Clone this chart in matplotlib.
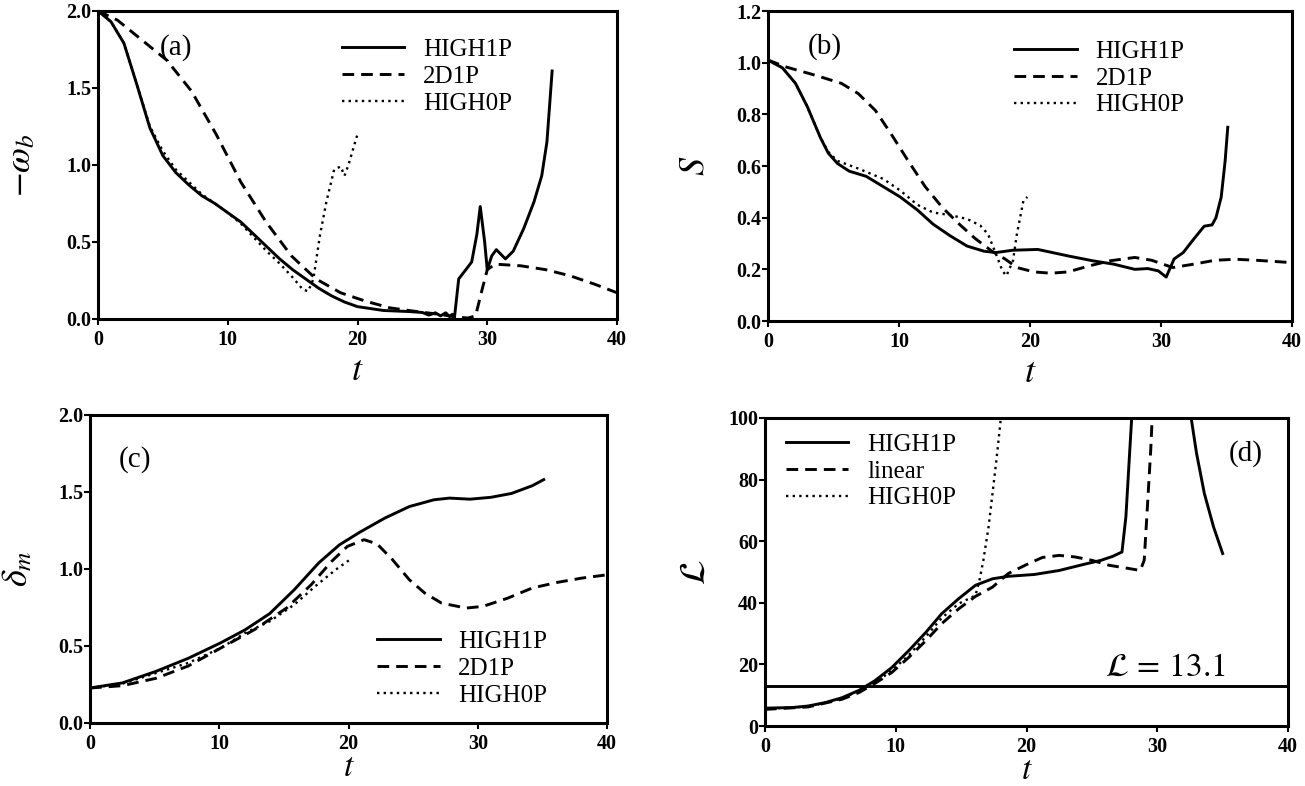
import numpy as np
import matplotlib
matplotlib.use("Agg")
import matplotlib.pyplot as plt

plt.rcParams['font.family'] = 'serif'
plt.rcParams['font.serif'] = ['Liberation Serif', 'DejaVu Serif']
plt.rcParams['mathtext.fontset'] = 'stix'

nan = np.nan

# (a) -omega_b
a_t_h1 = [0, 1, 2, 3, 4, 5, 6, 7, 8, 9, 10, 11, 12, 13, 14, 15, 16, 17, 18, 19, 20, 22, 24,
          25, 25.5, 26, 26.4, 26.8, 27.1, 27.3, 27.46, 27.8, 28.35, 28.8, 29.2, 29.46, 29.8,
          30.0, 30.35, 30.7, 31.4, 32.0, 32.8, 33.6, 34.2, 34.6, 35.0]
a_v_h1 = [2.0, 1.93, 1.79, 1.52, 1.24, 1.06, 0.95, 0.87, 0.80, 0.75, 0.69, 0.63, 0.55, 0.47,
          0.39, 0.32, 0.26, 0.20, 0.15, 0.11, 0.08, 0.055, 0.048, 0.042, 0.025, 0.04, 0.02,
          0.04, 0.015, 0.03, 0.0, 0.26, 0.32, 0.37, 0.55, 0.73, 0.50, 0.32, 0.41, 0.45, 0.39,
          0.44, 0.585, 0.76, 0.93, 1.15, 1.61]
a_t_2d = [0, 1.5, 3.4, 5.3, 7.2, 9.1, 11.0, 12.95, 14.9, 16.8, 18.7, 20.6, 22.5, 24.4, 26.3,
          27.6, 28.5, 29.1, 29.6, 30.0, 30.6, 32.6, 34.5, 36.4, 38.3, 40]
a_v_2d = [2.0, 1.94, 1.81, 1.68, 1.48, 1.20, 0.89, 0.63, 0.41, 0.26, 0.17, 0.116, 0.072, 0.05,
          0.03, 0.013, 0.006, 0.02, 0.19, 0.32, 0.356, 0.345, 0.32, 0.28, 0.225, 0.17]
a_t_h0 = [0, 1, 2, 3, 4, 5, 6, 7, 8, 9, 10, 11, 12, 13, 14, 15, 15.8, 16.2, 16.6, 17.1, 17.6,
          18.2, 18.7, 19.0, 19.3, 20.0]
a_v_h0 = [2.0, 1.93, 1.79, 1.52, 1.25, 1.09, 0.97, 0.89, 0.81, 0.75, 0.69, 0.62, 0.53, 0.44,
          0.36, 0.27, 0.19, 0.18, 0.26, 0.54, 0.76, 0.97, 0.99, 0.93, 1.0, 1.2]

# (b) S
b_t_h1 = [0, 1.1, 2.1, 3.0, 4.0, 4.6, 5.3, 6.2, 7.5, 8.8, 10.1, 11.4, 12.6, 13.9, 15.2, 16.5,
          17.4, 18.7, 20.6, 22.9, 24.8, 26.4, 28.0, 29.0, 29.8, 30.4, 31.0, 31.7, 32.5, 33.3,
          33.9, 34.2, 34.6, 34.9, 35.1]
b_v_h1 = [1.01, 0.98, 0.92, 0.83, 0.71, 0.65, 0.61, 0.58, 0.56, 0.52, 0.48, 0.43, 0.375, 0.33,
          0.29, 0.27, 0.265, 0.274, 0.277, 0.252, 0.233, 0.22, 0.20, 0.203, 0.194, 0.17, 0.24,
          0.265, 0.317, 0.367, 0.372, 0.40, 0.48, 0.62, 0.75]
b_t_2d = [0, 1.4, 3.7, 5.6, 6.9, 8.2, 9.4, 10.7, 12.0, 13.3, 14.6, 15.8, 17.1, 18.1, 19.0, 20.3,
          21.6, 22.9, 24.5, 26.1, 28.0, 29.3, 30.9, 32.5, 34.1, 35.7, 37.3, 40]
b_v_2d = [1.01, 0.983, 0.95, 0.92, 0.88, 0.815, 0.724, 0.62, 0.52, 0.44, 0.375, 0.32, 0.27,
          0.24, 0.207, 0.19, 0.185, 0.19, 0.213, 0.233, 0.246, 0.235, 0.207, 0.22, 0.235, 0.239,
          0.235, 0.226]
b_t_h0 = [0, 1.1, 2.1, 3.0, 4.0, 4.6, 5.3, 6.9, 8.8, 10.1, 11.4, 12.6, 13.9, 15.2, 16.2, 16.8,
          17.4, 17.9, 18.2, 18.7, 19.0, 19.5, 19.8]
b_v_h0 = [1.01, 0.98, 0.92, 0.83, 0.71, 0.655, 0.62, 0.59, 0.55, 0.505, 0.45, 0.42, 0.41, 0.395,
          0.37, 0.336, 0.26, 0.194, 0.175, 0.233, 0.336, 0.466, 0.48]

# (c) delta_m
c_t_h1 = [0, 2.5, 5.1, 7.6, 10.1, 12.0, 13.9, 15.8, 17.7, 19.3, 20.9, 22.8, 24.7, 26.6, 27.8,
          29.4, 31.0, 32.6, 34.2, 35.1]
c_v_h1 = [0.227, 0.26, 0.335, 0.42, 0.52, 0.605, 0.71, 0.865, 1.04, 1.157, 1.24, 1.33, 1.405,
          1.449, 1.46, 1.453, 1.465, 1.49, 1.54, 1.58]
c_t_2d = [0, 2.5, 5.1, 7.6, 10.1, 12.7, 15.2, 17.1, 18.7, 19.9, 21.2, 22.2, 23.4, 24.7, 25.9,
          27.2, 29.1, 30.4, 32.3, 34.2, 36.1, 38.0, 40]
c_v_2d = [0.227, 0.242, 0.29, 0.37, 0.486, 0.605, 0.746, 0.897, 1.05, 1.146, 1.19, 1.163, 1.06,
          0.93, 0.843, 0.778, 0.746, 0.757, 0.81, 0.876, 0.912, 0.94, 0.962]
c_t_h0 = [0, 2.5, 5.1, 7.6, 10.1, 12.0, 13.9, 15.8, 17.4, 19.0, 20.1]
c_v_h0 = [0.227, 0.255, 0.324, 0.39, 0.486, 0.584, 0.66, 0.768, 0.886, 0.995, 1.06]

# (d) L  (values above 100 run off the top of the axes)
d_t_h1 = [0, 2.1, 3.3, 4.6, 5.9, 7.2, 8.4, 9.7, 11.0, 12.3, 13.5, 14.8, 16.1, 17.4, 18.6, 20.6,
          22.5, 24.4, 25.7, 26.6, 27.3, 27.6, 27.9, 28.1, nan, 32.45, 33.0, 33.6, 34.3, 35.0]
d_v_h1 = [5.8, 6.0, 6.5, 7.6, 9.2, 11.6, 14.7, 19.0, 24.5, 30.4, 36.4, 41.3, 45.7, 47.8, 48.6,
          49.2, 50.5, 52.5, 53.8, 55.1, 56.5, 67.9, 89.7, 104, nan, 104, 88.6, 75.5, 64.7, 56]
d_t_lin = [0, 3.3, 5.9, 7.2, 8.4, 9.7, 11.0, 12.3, 13.5, 14.8, 16.1, 17.4, 18.6, 19.9, 21.2,
           22.5, 23.7, 25.0, 26.3, 27.6, 28.7, 29.0, 29.2, 29.5, 29.65]
d_v_lin = [5.4, 6.2, 8.7, 10.9, 13.8, 17.4, 22.3, 27.7, 33.2, 38.0, 42.1, 45.1, 49.5, 52.2,
           54.7, 55.4, 54.9, 53.8, 52.2, 51.3, 50.5, 53.8, 67.9, 89.7, 104]
d_t_h0 = [0, 3.3, 5.9, 8.4, 9.7, 11.0, 12.3, 13.5, 14.8, 16.1, 16.4, 16.7, 17.1, 17.4, 17.7,
          18.0, 18.1]
d_v_h0 = [5.6, 6.3, 8.9, 14.0, 18.0, 23.0, 29.0, 35.0, 39.7, 42.4, 47.3, 53.8, 64.7, 75.5,
          86.4, 98.4, 104]
L_crit = 13.1

solid = dict(color='black', lw=2.1, ls='-')
dashed = dict(color='black', lw=2.1, ls=(0, (4, 2.4)))
dotted = dict(color='black', lw=1.7, ls=(0, (1, 1.8)))

fig = plt.figure(figsize=(13.05, 7.86), dpi=100)
ax_a = fig.add_axes([0.0751, 0.5942, 0.3977, 0.3919])
ax_b = fig.add_axes([0.5885, 0.5916, 0.4015, 0.3944])
ax_c = fig.add_axes([0.0690, 0.0802, 0.3962, 0.3919])
ax_d = fig.add_axes([0.5862, 0.0763, 0.4008, 0.3919])


def style(ax, ylim, yticks, yfmt, ylabel, ylx, tly, tsize=26):
    ax.set_xlim(0, 40)
    ax.set_ylim(*ylim)
    ax.set_xticks([0, 10, 20, 30, 40])
    ax.set_yticks(yticks)
    ax.set_yticklabels([yfmt.format(v) for v in yticks])
    for s in ax.spines.values():
        s.set_linewidth(2.2)
    ax.tick_params(direction='out', length=4, width=1.5, labelsize=14.5)
    ax.tick_params(axis='x', pad=4)
    ax.tick_params(axis='y', pad=1)
    for lab in ax.get_xticklabels() + ax.get_yticklabels():
        lab.set_fontweight('bold')
    ax.set_xlabel('$t$', fontsize=tsize)
    ax.xaxis.set_label_coords(0.5, tly)
    ax.set_ylabel(ylabel, fontsize=26)
    ax.yaxis.set_label_coords(ylx, 0.5)


def legend(ax, labels, x, y):
    hs = [plt.Line2D([], [], **solid), plt.Line2D([], [], **dashed),
          plt.Line2D([], [], **dotted)]
    ax.legend(hs, labels, loc='upper left', bbox_to_anchor=(x, y), frameon=False,
              fontsize=18, handlelength=2.5, handletextpad=0.75, labelspacing=0.17,
              borderaxespad=0, borderpad=0)


labels = ['HIGH1P', '2D1P', 'HIGH0P']

# (a)
ax_a.plot(a_t_h1, a_v_h1, **solid)
ax_a.plot(a_t_2d, a_v_2d, **dashed)
ax_a.plot(a_t_h0, a_v_h0, **dotted)
style(ax_a, (0, 2), [0, 0.5, 1.0, 1.5, 2.0], '{:.1f}', r'$-\omega_b$', -0.115, -0.117)
legend(ax_a, labels, 0.47, 0.91)
ax_a.text(0.15, 0.88, '(a)', transform=ax_a.transAxes, fontsize=21, ha='center', va='center')

# (b)
ax_b.plot(b_t_h1, b_v_h1, **solid)
ax_b.plot(b_t_2d, b_v_2d, **dashed)
ax_b.plot(b_t_h0, b_v_h0, **dotted)
style(ax_b, (0, 1.2), [0, 0.2, 0.4, 0.6, 0.8, 1.0, 1.2], '{:.1f}', '$S$', -0.107, -0.117)
legend(ax_b, labels, 0.47, 0.905)
ax_b.text(0.108, 0.884, '(b)', transform=ax_b.transAxes, fontsize=21, ha='center',
          va='center')

# (c)
ax_c.plot(c_t_h1, c_v_h1, **solid)
ax_c.plot(c_t_2d, c_v_2d, **dashed)
ax_c.plot(c_t_h0, c_v_h0, **dotted)
style(ax_c, (0, 2), [0, 0.5, 1.0, 1.5, 2.0], '{:.1f}', r'$\delta_m$', -0.106, -0.097,
      tsize=24)
legend(ax_c, labels, 0.555, 0.30)
ax_c.text(0.087, 0.854, '(c)', transform=ax_c.transAxes, fontsize=21, ha='center',
          va='center')

# (d)
ax_d.plot(d_t_h1, d_v_h1, **solid)
ax_d.plot(d_t_lin, d_v_lin, **dashed)
ax_d.plot(d_t_h0, d_v_h0, **dotted)
ax_d.axhline(L_crit, color='black', lw=2.1)
style(ax_d, (0, 100), [0, 20, 40, 60, 80, 100], '{:.0f}', r'$\mathcal{L}$', -0.10, -0.095,
      tsize=24)
legend(ax_d, ['HIGH1P', 'linear', 'HIGH0P'], 0.04, 0.95)
ax_d.text(0.92, 0.886, '(d)', transform=ax_d.transAxes, fontsize=21, ha='center',
          va='center')
ax_d.text(35.2, L_crit + 1.0, r'$\mathcal{L}\,=\,13.1$', fontsize=24, ha='right',
          va='bottom')

fig.savefig('out.png', dpi=100)
